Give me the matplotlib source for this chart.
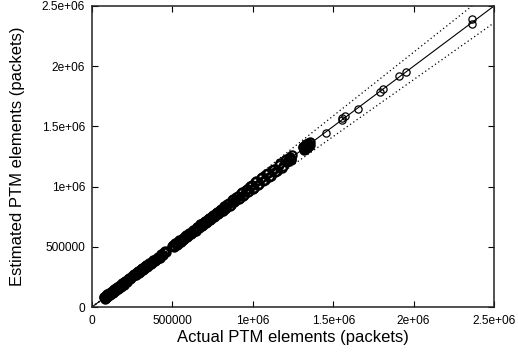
import matplotlib
matplotlib.use("Agg")
import matplotlib.pyplot as plt
from matplotlib.ticker import FixedLocator

# ---- data ----
# dense band of measurements (0.07e6 .. 1.36e6)
dense_actual = [72000, 78000, 84000, 90000, 96000, 102000, 108000, 115000, 122000, 130000,
                138000, 146000, 155000, 164000, 173000, 182000, 191000, 200000, 210000, 220000,
                232000, 245000, 258000, 270000, 282000, 294000, 306000, 318000, 330000, 342000,
                354000, 366000, 378000, 390000, 402000, 414000, 426000, 438000, 450000, 462000,
                498000, 508000, 518000, 528000, 538000, 548000, 558000, 568000, 578000, 590000,
                602000, 614000, 626000, 638000, 650000, 662000, 674000, 686000, 698000, 710000,
                722000, 734000, 746000, 758000, 770000, 782000, 794000, 806000, 818000, 830000,
                842000, 856000, 870000, 884000, 898000, 912000, 926000, 940000, 955000, 970000,
                985000, 1000000, 1015000, 1030000, 1048000, 1066000, 1084000, 1102000, 1120000, 1140000,
                1160000, 1180000, 1200000, 1215000, 1225000, 1235000, 1245000, 1310000, 1318000, 1326000,
                1334000, 1342000, 1350000, 1358000,
                75000, 81000, 87000, 93000, 99000, 105000, 112000, 119000, 126000, 134000,
                142000, 150000, 160000, 169000, 178000, 187000, 196000, 205000, 215000, 226000,
                238000, 251000, 264000, 276000, 288000, 300000, 312000, 324000, 336000, 348000,
                360000, 372000, 384000, 396000, 408000, 420000, 432000, 444000, 456000, 503000,
                513000, 523000, 533000, 543000, 553000, 563000, 573000, 584000, 596000, 608000,
                620000, 632000, 644000, 656000, 668000, 680000, 692000, 704000, 716000, 728000,
                740000, 752000, 764000, 776000, 788000, 800000, 812000, 824000, 836000, 849000,
                863000, 877000, 891000, 905000, 919000, 933000, 948000, 962000, 978000, 992000,
                1008000, 1022000, 1039000, 1057000, 1075000, 1093000, 1111000, 1130000, 1150000, 1170000,
                1190000, 1207000, 1220000, 1230000, 1240000, 1314000, 1322000, 1330000, 1338000, 1346000,
                1354000]
dense_estimated = [80000, 70000, 92000, 78000, 104000, 95000, 118000, 106000, 131000, 120000,
                   147000, 134000, 163000, 152000, 182000, 171000, 199000, 190000, 218000, 212000,
                   238000, 240000, 266000, 262000, 292000, 285000, 315000, 309000, 340000, 333000,
                   363000, 356000, 388000, 381000, 411000, 405000, 436000, 429000, 459000, 455000,
                   509000, 498000, 528000, 519000, 548000, 539000, 568000, 560000, 589000, 580000,
                   612000, 605000, 637000, 628000, 661000, 652000, 686000, 676000, 710000, 700000,
                   735000, 724000, 759000, 748000, 784000, 771000, 808000, 795000, 833000, 818000,
                   857000, 843000, 886000, 871000, 915000, 898000, 944000, 925000, 975000, 953000,
                   1004000, 982000, 1036000, 1012000, 1070000, 1046000, 1105000, 1082000, 1140000, 1122000,
                   1182000, 1158000, 1222000, 1205000, 1240000, 1222000, 1262000, 1325000, 1305000, 1342000,
                   1320000, 1356000, 1338000, 1368000,
                   86000, 74000, 97000, 84000, 110000, 99000, 100000, 127000, 114000, 143000,
                   130000, 160000, 148000, 178000, 166000, 196000, 185000, 214000, 206000, 234000,
                   232000, 258000, 272000, 268000, 298000, 291000, 321000, 315000, 346000, 339000,
                   369000, 362000, 394000, 387000, 417000, 411000, 442000, 435000, 465000, 514000,
                   503000, 533000, 524000, 553000, 544000, 573000, 565000, 595000, 586000, 618000,
                   611000, 643000, 634000, 667000, 658000, 692000, 682000, 716000, 706000, 741000,
                   730000, 765000, 754000, 790000, 777000, 814000, 801000, 839000, 824000, 864000,
                   850000, 893000, 878000, 922000, 905000, 951000, 932000, 982000, 961000, 1012000,
                   990000, 1043000, 1020000, 1079000, 1055000, 1114000, 1091000, 1150000, 1131000, 1192000,
                   1168000, 1230000, 1213000, 1248000, 1230000, 1333000, 1313000, 1350000, 1328000, 1362000,
                   1345000]

# isolated large measurements
sparse_actual = [1453000, 1552000, 1557000, 1571000, 1656000, 1791000, 1810000,
                 1909000, 1951000, 2361000, 2361000]
sparse_estimated = [1448000, 1553000, 1570000, 1589000, 1647000, 1788000, 1808000,
                    1919000, 1952000, 2389000, 2350000]

axis_max = 2500000
ref_line = [0, 2500000]
upper_factor = 1.058
lower_factor = 0.944

tick_values = [0, 500000, 1000000, 1500000, 2000000, 2500000]
tick_labels = ["0", "500000", "1e+06", "1.5e+06", "2e+06", "2.5e+06"]

plt.rcParams['font.family'] = ['Liberation Sans', 'DejaVu Sans']

fig = plt.figure(figsize=(5.18, 3.52), dpi=100)
ax = fig.add_axes([92 / 518, 1 - 307 / 352, 402 / 518, 301 / 352])

ax.plot(ref_line, ref_line, color='black', lw=0.8, zorder=2)
ax.plot(ref_line, [v * upper_factor for v in ref_line], color='black', lw=0.9,
        linestyle=(0, (1, 2.2)), zorder=2)
ax.plot(ref_line, [v * lower_factor for v in ref_line], color='black', lw=0.9,
        linestyle=(0, (1, 2.2)), zorder=2)
ax.plot(dense_actual, dense_estimated, linestyle='none', marker='o', markersize=6,
        markerfacecolor='none', markeredgecolor='black', markeredgewidth=1.5, zorder=3)
ax.plot(sparse_actual, sparse_estimated, linestyle='none', marker='o', markersize=5.2,
        markerfacecolor='none', markeredgecolor='black', markeredgewidth=0.9, zorder=3)

ax.set_xlim(0, axis_max)
ax.set_ylim(0, axis_max)
ax.xaxis.set_major_locator(FixedLocator(tick_values))
ax.yaxis.set_major_locator(FixedLocator(tick_values))
ax.set_xticklabels(tick_labels, fontsize=8.6)
ax.set_yticklabels(tick_labels, fontsize=8.6)
ax.tick_params(direction='in', length=4, width=0.8, top=True, right=True, color='black')
ax.tick_params(axis='x', pad=6)
ax.tick_params(axis='y', pad=5)
for s in ax.spines.values():
    s.set_linewidth(1.1)
    s.set_color('#222222')

ax.set_xlabel("Actual PTM elements (packets)", fontsize=12, labelpad=2)
ax.set_ylabel("Estimated PTM elements (packets)", fontsize=12, labelpad=12)

fig.savefig("out.png", dpi=100)
